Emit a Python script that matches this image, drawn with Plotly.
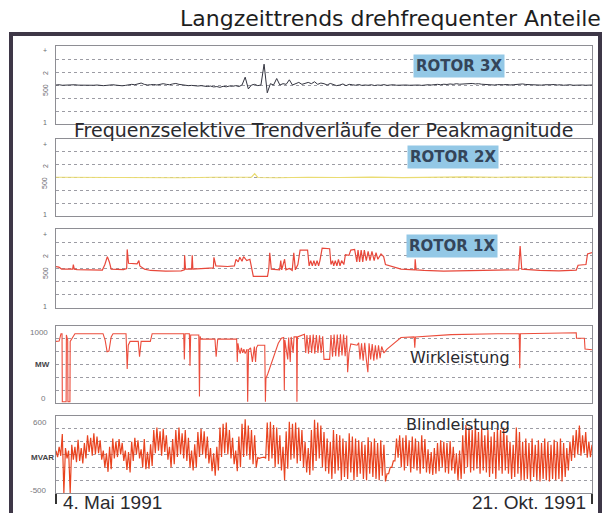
import plotly.graph_objects as go
import pandas as pd

W, H = 605, 513
START = pd.Timestamp("1991-05-04")
END = pd.Timestamp("1991-10-21")

# ---------------- data ----------------
# Rotor 3X: daily peak magnitude (scale units, 0..6 panel)
r3_days = list(range(171))
r3_vals = [
    3.0, 3.02, 2.98, 3.0, 2.97, 3.0, 3.02, 2.99, 2.98, 3.0,
    2.97, 2.95, 2.98, 3.0, 2.96, 2.95, 2.97, 3.0, 3.02, 2.99,
    2.96, 2.94, 2.97, 3.0, 3.05, 3.02, 3.08, 3.15, 3.05, 3.0,
    3.02, 3.04, 3.0, 3.06, 3.1, 3.05, 3.02, 3.08, 3.12, 3.05,
    3.0, 2.98, 2.95, 2.97, 2.94, 2.92, 2.95, 2.9, 2.88, 2.92,
    2.85, 2.88, 2.82, 2.9, 2.86, 2.92, 2.9, 2.95, 2.88, 3.0,
    3.6, 2.7, 3.0, 3.05, 2.95, 3.0, 4.6, 2.4, 3.1, 3.0,
    3.5, 3.0, 3.1, 3.05, 3.4, 3.0, 3.1, 3.2, 3.05, 3.15,
    3.2, 3.1, 3.25, 3.05, 3.15, 3.1, 3.0, 3.12, 3.05, 2.95,
    3.0, 3.08, 2.95, 3.05, 3.02, 2.98, 3.04, 2.97, 3.0, 2.98,
    3.02, 2.96, 3.0, 2.98, 3.03, 2.97, 3.0, 3.02, 2.98, 3.0,
    3.02, 3.0, 2.98, 3.0, 3.03, 3.0, 2.97, 3.0, 3.02, 3.0,
    3.03, 3.05, 3.02, 3.06, 3.04, 3.08, 3.05, 3.1, 3.06, 3.08,
    3.1, 3.07, 3.12, 3.08, 3.1, 3.06, 3.04, 3.02, 3.05, 3.0,
    3.03, 3.0, 3.02, 3.04, 3.0, 3.02, 3.05, 3.1, 3.08, 3.04,
    3.02, 3.0, 3.03, 3.01, 2.99, 3.02, 3.0, 3.02, 3.04, 3.0,
    3.02, 2.98, 3.0, 3.02, 2.98, 3.0, 3.02, 3.0, 2.98, 3.0, 3.0,
]

# Rotor 2X
r2_days = [0, 10, 20, 30, 40, 50, 60, 62, 63, 64, 70, 80, 90, 100, 110, 120, 130, 140, 150, 160, 170]
r2_vals = [3.02, 3.0, 3.03, 3.0, 2.98, 3.02, 3.0, 3.02, 3.3, 3.0, 2.98, 3.02, 3.0, 3.03, 2.99, 3.02, 3.05, 3.02, 3.0, 3.03, 3.02]

# Rotor 1X
r1_days = [
    0, 0.9, 1.8, 5.3, 5.5, 5.8, 6.7, 10.4, 14.7, 15.5, 16.3, 16.9, 17.5, 21.4, 22.4, 22.6, 23.0,
    25.7, 26.3, 26.6, 28.1, 30.0, 34.8, 39.7, 40.7, 40.8, 41.1, 43.0, 43.2, 43.4, 47.0, 49.9, 50.1,
    50.7, 54.4, 56.6, 57.1, 57.8, 58.3, 59.0, 59.5, 60.5, 61.5, 62.0, 62.6, 67.1, 67.5, 67.8, 68.3,
    70.9, 71.3, 71.6, 72.5, 72.9, 74.0, 74.9, 75.4, 75.9, 76.7, 77.4, 79.8, 80.3, 80.8, 81.3, 81.8,
    82.3, 82.8, 83.3, 83.7, 84.4, 86.8, 87.2, 87.7, 88.1, 88.6, 89.1, 89.6, 90.1, 90.6, 91.3, 91.8,
    92.9, 93.5, 94.7, 95.4, 95.8, 96.3, 96.8, 97.3, 97.8, 98.4, 99.0, 99.6, 100.2, 100.9, 101.5,
    102.1, 103.1, 103.9, 104.5, 105.7, 109.4, 113.8, 113.9, 114.2, 116.7, 122.9, 129.0, 135.1,
    141.2, 146.7, 147.2, 147.7, 153.4, 159.5, 165.0, 165.6, 168.1, 168.6, 170.0,
]
r1_vals = [
    3.15, 3.1, 2.96, 2.96, 3.3, 2.95, 2.92, 2.9, 2.88, 3.3, 3.9, 3.5, 2.95, 2.92, 3.0, 4.45, 3.4,
    3.35, 3.6, 3.2, 2.95, 2.85, 2.8, 2.82, 2.9, 4.0, 2.95, 2.95, 4.0, 2.95, 3.0, 3.05, 3.85,
    3.2, 3.15, 3.2, 3.7, 3.5, 3.85, 3.55, 3.9, 3.6, 3.7, 3.2, 2.4, 2.4, 3.0, 4.2, 2.95,
    2.9, 3.6, 2.9, 3.7, 2.9, 3.0, 2.85, 4.2, 2.9, 3.3, 4.4, 4.4, 3.2, 3.6, 3.2, 3.6,
    3.2, 3.6, 3.2, 3.6, 4.55, 4.5, 3.3, 3.6, 3.2, 3.6, 3.2, 3.7, 3.2, 3.6, 3.3, 4.05,
    4.0, 4.4, 4.45, 3.5, 4.4, 3.5, 4.4, 3.5, 4.4, 3.6, 4.3, 3.6, 4.3, 3.6, 4.2,
    3.7, 4.1, 3.9, 3.3, 3.2, 2.95, 2.9, 3.7, 2.9, 2.85, 2.8, 2.82, 2.85,
    2.88, 2.9, 4.7, 2.95, 2.85, 2.82, 2.88, 3.25, 3.3, 4.1, 4.2,
]

# Wirkleistung (MW)
wl_days = [
    0, 1.0, 1.6, 1.9, 2.0, 3.2, 3.3, 3.7, 3.8, 4.4, 4.5, 5.4, 6.0, 14.9, 15.6, 16.2, 16.8, 17.5, 18.1,
    21.9, 22.2, 22.6, 22.9, 23.5, 26.1, 26.5, 27.0, 29.9, 30.5, 40.5, 40.7, 40.9, 42.3, 42.5, 42.7,
    45.3, 45.5, 45.7, 45.9, 50.4, 50.8, 51.3, 57.3, 57.5, 57.7, 58.0, 58.4, 58.8, 59.2, 59.6, 60.0,
    60.6, 60.8, 61.1, 61.7, 62.3, 62.9, 63.3, 63.6, 64.0, 66.2, 66.4, 66.6, 67.2, 68.0, 69.5, 70.5,
    71.5, 72.2, 72.4, 72.6, 73.5, 73.8, 74.3, 74.6, 75.2, 75.5, 76.3, 76.4, 76.6, 78.8, 79.2, 79.6,
    80.1, 80.6, 81.1, 81.6, 82.1, 82.6, 83.1, 83.6, 84.1, 84.6, 85.0, 86.8, 87.2, 87.7, 88.2, 88.7,
    89.2, 89.7, 90.2, 90.7, 91.2, 91.7, 92.2, 92.5, 92.9, 93.5, 95.5, 96.0, 96.4, 96.9, 97.4, 97.9,
    98.4, 98.9, 99.3, 99.8, 100.3, 100.8, 101.3, 101.8, 102.3, 102.8, 103.3, 104.0, 105.0, 106.5,
    108.0, 109.4, 113.6, 113.8, 114.0, 118.0, 125.3, 140.0, 146.9, 147.1, 147.3, 165.0, 165.1,
    167.6, 167.8, 170.0,
]
wl_vals = [
    880, 885, 1000, 1000, -60, -60, 980, 900, -60, -60, 880, 950, 1000, 1000, 900, 720, 730, 950, 1000,
    1000, 1000, 450, 820, 880, 880, 640, 880, 880, 1000, 1000, 600, 1000, 1000, 500, 980,
    980, 20, 960, 915, 915, 640, 915, 915, 560, 850, 760, 690, 780, 700, 760, 690,
    760, -60, 750, 780, 560, 800, 560, 780, 820, 820, -60, 300, 380, 500, 700, 850,
    930, 940, 120, 900, 600, 940, 560, 950, 700, 950, 950, -60, 950, 990, 700, 980,
    690, 980, 700, 985, 690, 980, 700, 975, 700, 960, 600, 600, 980, 640, 985, 650,
    985, 640, 990, 660, 985, 650, 970, 400, 700, 840, 820, 860, 600, 850, 580, 860,
    600, 400, 850, 600, 840, 580, 820, 600, 820, 620, 800, 700, 760, 820,
    880, 940, 950, 780, 950, 960, 985, 1000, 1000, 460, 1000, 1015, 930,
    930, 760, 750,
]

# Blindleistung (MVAR): daily maximum / minimum
bl_hi = [
    60, 120, 320, 100, 60, 150, 120, 230, 100, 180,
    300, 260, 330, 280, 220, 60, 20, 120, 250, 200,
    240, 180, 60, 40, 200, 260, 220, 80, 240, 40,
    160, 380, 420, 360, 400, 300, 120, 240, 380, 420,
    330, 380, 260, 60, 160, 350, 400, 360, 280, 100,
    20, 120, 420, 480, 500, 380, 260, 60, 280, 480,
    550, 450, 380, 300, -50, -50, -40, 500, 510, 460,
    420, 300, 120, 360, 510, 480, 500, 420, 380, 200,
    100, 380, 540, 500, 450, 350, 250, 200, 380, 320,
    300, 250, 200, 330, 280, 250, 220, 200, 150, 270,
    200, 250, 180, 220, 150, -300, -200, -100, 250, 300,
    260, 300, 220, 280, 250, 200, 300, 240, 80, 40,
    100, 180, 220, 200, 180, 210, 120, 20, 60, 300,
    460, 420, 380, 450, 350, 400, 300, 380, 280, 350,
    400, 380, 420, 300, 200, 150, 420, 350, 200, 250,
    180, 250, 150, 220, 180, 250, 200, 150, 230, 200,
    250, 180, 100, 200, 300, 380, 450, 300, 350, 200, 150,
]
bl_lo = [
    -40, -20, -600, -60, -600, -80, -120, -100, -140, -60,
    40, -20, 0, 20, -80, -200, -270, -230, -60, -40,
    0, -100, -240, -280, -100, 0, -60, -200, -230, -220,
    -180, 20, 60, -20, 40, -80, -200, -150, -40, 0,
    -60, -100, -200, -250, -200, -40, 0, -60, -140, -260,
    -330, -250, -40, 20, 0, -60, -150, -260, -200, -40,
    -20, -80, -150, -200, -60, -50, -60, -100, -60, -200,
    -150, -250, -400, -220, -80, -60, -140, -100, -200, -280,
    -320, -250, -100, -60, -200, -260, -300, -380, -300, -250,
    -400, -350, -380, -280, -400, -350, -300, -380, -400, -300,
    -350, -380, -400, -330, -420, -300, -200, -100, -50, -200,
    -250, -180, -280, -220, -250, -300, -220, -280, -300, -320,
    -300, -260, -200, -280, -300, -250, -300, -400, -380, -300,
    -200, -280, -250, -220, -300, -250, -280, -350, -300, -380,
    -250, -300, -250, -300, -380, -350, -300, -400, -400, -380,
    -420, -350, -400, -420, -380, -400, -420, -380, -400, -380,
    -420, -350, -250, -100, -50, 0, -20, 20, -50, -40, 0,
]


def to_dates(days):
    return [START + pd.Timedelta(hours=round(d * 24)) for d in days]


bl_days, bl_vals = [], []
for i, (hi, lo) in enumerate(zip(bl_hi, bl_lo)):
    bl_days += [i, i + 0.5]
    bl_vals += [hi, lo]

# ---------------- figure ----------------
FONT = "Liberation Sans, Arial, sans-serif"
DV = "DejaVu Sans, Liberation Sans, sans-serif"


def px(x):
    return x / W


def py(y):
    return 1 - y / H


X0, X1 = 56, 592
panels = [(46, 124), (139, 216), (229, 308), (326, 403), (416, 493)]

fig = go.Figure()
series = [
    (r3_days, r3_vals, "#33343f", 1.0),
    (r2_days, r2_vals, "#eadc72", 1.2),
    (r1_days, r1_vals, "#e8473a", 1.2),
    (wl_days, wl_vals, "#ec4d3c", 1.1),
    (bl_days, bl_vals, "#e9431f", 1.2),
]
for i, (d, v, c, w) in enumerate(series):
    ax = "" if i == 0 else str(i + 1)
    fig.add_trace(go.Scatter(
        x=to_dates(d), y=v, mode="lines", line=dict(color=c, width=w),
        xaxis="x" + ax, yaxis="y" + ax, showlegend=False, hoverinfo="skip",
    ))

yranges = [[0, 6], [0, 6], [0, 6], [-80, 1120], [-600, 600]]
ygrids = [[1, 2, 3, 4, 5], [1, 2, 3, 4, 5], [1, 2, 3, 4, 5],
          [120, 320, 520, 720, 920], [-400, -200, 0, 200, 400]]

layout = dict(
    width=W, height=H, margin=dict(l=0, r=0, t=0, b=0),
    paper_bgcolor="white", plot_bgcolor="white",
    font=dict(family=FONT, color="#222"),
)
for i, (top, bot) in enumerate(panels):
    ax = "" if i == 0 else str(i + 1)
    xa = dict(
        domain=[px(X0), px(X1)], range=[START, END], type="date",
        showgrid=False, zeroline=False, showticklabels=False,
        showline=True, mirror=True, linecolor="#8e8e94", linewidth=1,
        anchor="y" + ax, ticks="",
    )
    if i == 4:
        xa.update(tickvals=[START, END], ticks="outside", ticklen=10,
                  tickwidth=2, tickcolor="#333")
    ya = dict(
        domain=[py(bot), py(top)], range=yranges[i],
        tickvals=ygrids[i], showticklabels=False, ticks="",
        showgrid=True, gridcolor="#9c9ca4", griddash="dot", gridwidth=1,
        zeroline=False, showline=True, mirror=True, linecolor="#8e8e94",
        linewidth=1, anchor="x" + ax,
    )
    layout["xaxis" + ax] = xa
    layout["yaxis" + ax] = ya

fig.update_layout(**layout)

# frame
fig.add_shape(type="rect", xref="paper", yref="paper",
              x0=px(11), x1=px(600), y0=py(520), y1=py(34),
              line=dict(color="#3e3747", width=4), fillcolor="rgba(0,0,0,0)")

ann = []


def text(x, y, s, size, color="#222", xanchor="center", angle=0, bold=False, bg=None, pad=1, family=FONT):
    ann.append(dict(
        x=px(x), y=py(y), xref="paper", yref="paper", text=("<b>%s</b>" % s) if bold else s,
        showarrow=False, xanchor=xanchor, yanchor="middle", textangle=angle,
        font=dict(size=size, color=color, family=family), bgcolor=bg, borderpad=pad,
    ))


text(603, 18, "Langzeittrends drehfrequenter Anteile", 22, "#1e1e1e", xanchor="right", family=DV)
text(323, 130, "Frequenzselektive Trendverläufe der Peakmagnitude", 19, "#2a2a2e", family=DV)

# rotor labels
for (x, y, s) in [(459, 66, "ROTOR 3X"), (453, 157, "ROTOR 2X"), (452, 246, "ROTOR 1X")]:
    text(x, y, s, 15, "#34455a", bold=True, bg="#93c8e6", pad=2, family=DV)
text(460, 357, "Wirkleistung", 16, "#2a2a30", family=DV)
text(458, 424, "Blindleistung", 16, "#2a2a30", family=DV)

# small axis labels, rotor panels
for top, bot in panels[:3]:
    text(45, top + 5, "+", 7, "#6a6a70")
    text(45, top + 27, "2", 7, "#6a6a70", angle=-90)
    text(45, top + 44, "500", 7, "#6a6a70", angle=-90)
    text(45, bot - 2, "1", 7, "#6a6a70")

text(50, 332, "1000", 8, "#77777c", xanchor="right")
text(52, 364, "MW", 8, "#444448", xanchor="right", bold=True)
text(48, 398, "0", 8, "#77777c", xanchor="right")
text(49, 422, "600", 8, "#77777c", xanchor="right")
text(56, 457, "MVAR", 8, "#444448", xanchor="right", bold=True)
text(49, 490, "-500", 8, "#77777c", xanchor="right")

text(61, 502, "4. Mai 1991", 19, "#2a2a2e", xanchor="left")
text(588, 502, "21. Okt. 1991", 19, "#2a2a2e", xanchor="right")

fig.update_layout(annotations=ann)
fig.write_html("out.html", config={"displayModeBar": False},
               post_script="document.body.style.margin='0';")
